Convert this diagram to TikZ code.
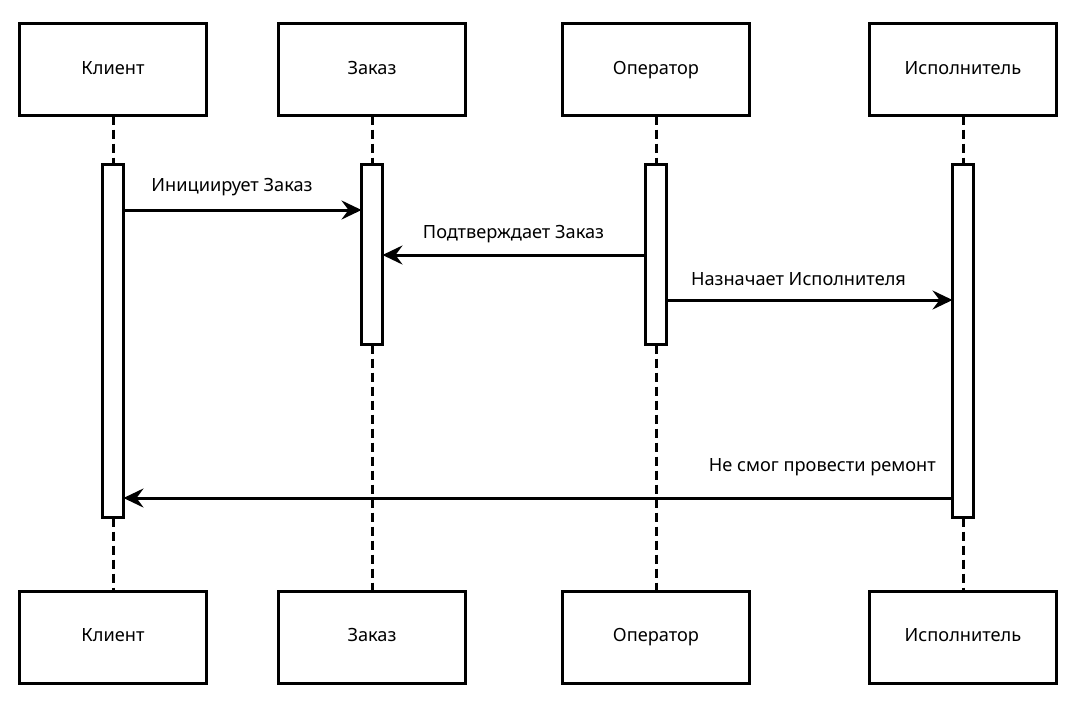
\documentclass[tikz,border=0pt]{standalone}
\usepackage{fontspec}
\setmainfont{Noto Sans}
\usetikzlibrary{arrows.meta}
\begin{document}
\begin{tikzpicture}[x=1pt,y=-1pt,
  lw/.style={line width=3pt},
  actor/.style={lw, draw, rectangle, minimum width=187pt, minimum height=92pt,
    inner sep=0pt, outer sep=0pt, text height=13pt, text depth=4pt,
    font=\fontsize{18.2}{21}\selectfont},
  actbar/.style={lw, draw, fill=white, rectangle, minimum width=21pt,
    inner sep=0pt, outer sep=0pt},
  lifeline/.style={lw, dash pattern=on 9pt off 5pt},
  msg/.style={lw, -{Stealth[length=20pt, width=19pt, inset=7pt]}},
  msglabel/.style={inner sep=0pt, text height=13pt, text depth=4pt,
    font=\fontsize{18.2}{21}\selectfont}
]
\useasboundingbox (0,0) rectangle (1092,702);

% participant heads
\node[actor] (klT) at (113,69.5) {Клиент};
\node[actor] (zkT) at (372,69.5) {Заказ};
\node[actor] (opT) at (656,69.5) {Оператор};
\node[actor] (isT) at (963,69.5) {Исполнитель};

% participant feet
\node[actor] (klB) at (113,637) {Клиент};
\node[actor] (zkB) at (372,637) {Заказ};
\node[actor] (opB) at (656,637) {Оператор};
\node[actor] (isB) at (963,637) {Исполнитель};

% activation bars
\node[actbar, minimum height=353pt] (klA) at (113,341) {};
\node[actbar, minimum height=180pt] (zkA) at (372,254.5) {};
\node[actbar, minimum height=180pt] (opA) at (656,254.5) {};
\node[actbar, minimum height=353pt] (isA) at (963,341) {};

% lifelines
\foreach \p in {kl,zk,op,is} {
  \draw[lifeline] (\p T.south) -- (\p A.north);
  \draw[lifeline] (\p A.south) -- (\p B.north);
}
% redraw bars over the lifelines
\foreach \p in {kl,zk,op,is} {
  \draw[lw, fill=white] (\p A.north west) rectangle (\p A.south east);
}

% messages
\draw[msg] (klA.east |- 0,210) -- (zkA.west |- 0,210);
\draw[msg] (opA.west |- 0,255) -- (zkA.east |- 0,255);
\draw[msg] (opA.east |- 0,300) -- (isA.west |- 0,300);
\draw[msg] (isA.west |- 0,498) -- (klA.east |- 0,498);

% message labels
\node[msglabel] (m1) at (232,187) {Инициирует Заказ};
\node[msglabel] (m2) at (513.5,234) {Подтверждает Заказ};
\node[msglabel] (m3) at (798.5,281) {Назначает Исполнителя};
\node[msglabel, anchor=east] (m4) at (936,467) {Не смог провести ремонт};
\end{tikzpicture}
\end{document}
